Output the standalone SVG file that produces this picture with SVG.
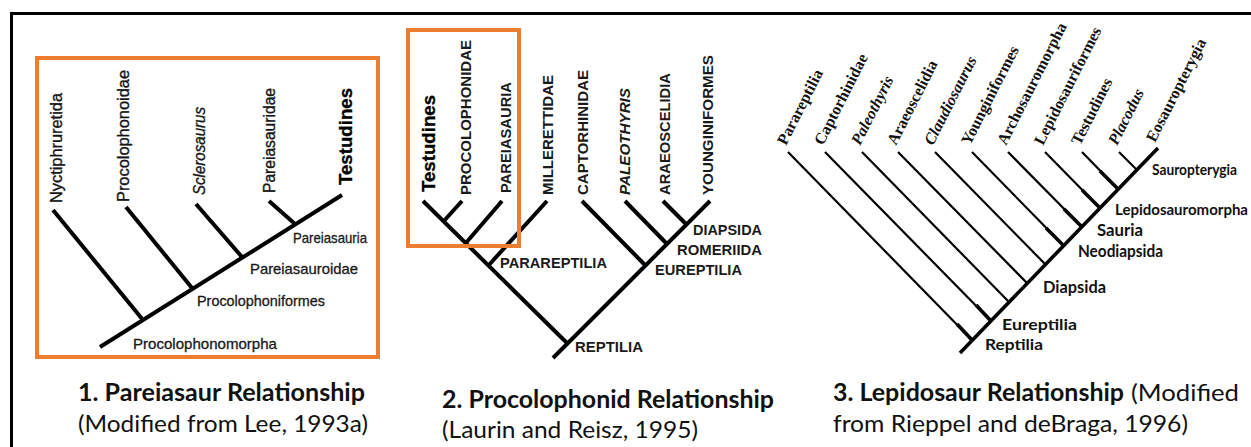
<svg xmlns="http://www.w3.org/2000/svg" width="1251" height="447" viewBox="0 0 1251 447">
<style>
.frame{fill:none;stroke:#000;stroke-width:3}
.box{fill:none;stroke:#ED7D31;stroke-width:4}
.ln{stroke:#000;stroke-width:4;stroke-linecap:butt;fill:none}
.ln3{stroke:#000;stroke-width:2.2;fill:none}
.ln3b{stroke:#000;stroke-width:3.6;fill:none}
.t1{font-family:"Liberation Sans",Arial,sans-serif;font-size:16px;fill:#151515;stroke:#151515;stroke-width:0.35}
.t1b{font-family:"Liberation Sans",Arial,sans-serif;font-size:18px;font-weight:bold;fill:#000;stroke:#000;stroke-width:0.3}
.c1{font-family:"Liberation Sans",Arial,sans-serif;font-size:14.5px;fill:#1a1a1a;stroke:#1a1a1a;stroke-width:0.3}
.t2{font-family:"Liberation Sans",Arial,sans-serif;font-size:15px;font-weight:bold;fill:#1a1a1a}
.c2{font-family:"Liberation Sans",Arial,sans-serif;font-size:15.5px;font-weight:bold;fill:#1a1a1a}
.t3{font-family:"Liberation Serif","Times New Roman",serif;font-size:16px;font-weight:bold;fill:#111}
.it{font-style:italic}
.c3{font-family:Lato,"Open Sans",sans-serif;font-weight:bold;fill:#111}
.capb{font-family:Lato,"Open Sans",sans-serif;font-size:24px;font-weight:bold;fill:#111}
.capr{font-family:Lato,"Open Sans",sans-serif;font-size:24px;fill:#111}
</style>

<polyline class="frame" points="11.5,447 11.5,13.5 1251,13.5"/>

<!-- Panel 1 -->
<rect id="box1" class="box" x="37" y="58" width="341" height="299"/>
<g id="connectors">
  <g id="conn-p1">
    <line class="ln" x1="100" y1="347" x2="342" y2="195"/>
    <line class="ln" x1="53" y1="210" x2="143" y2="320"/>
    <line class="ln" x1="126" y1="207" x2="192" y2="288"/>
    <line class="ln" x1="196" y1="204" x2="242" y2="257"/>
    <line class="ln" x1="269" y1="201" x2="295" y2="224"/>
  </g>
  <g id="conn-p2">
    <line class="ln" x1="423" y1="201" x2="567" y2="343"/>
    <line class="ln" x1="710" y1="201" x2="553" y2="358"/>
    <line class="ln" x1="462" y1="201" x2="443" y2="222"/>
    <line class="ln" x1="502" y1="201" x2="465" y2="244"/>
    <line class="ln" x1="547" y1="201" x2="488" y2="266"/>
    <line class="ln" x1="582" y1="201" x2="645" y2="265"/>
    <line class="ln" x1="625" y1="201" x2="667" y2="244"/>
    <line class="ln" x1="663" y1="201" x2="686" y2="224"/>
  </g>
  <g id="conn-p3">
    <line class="ln3b" x1="960" y1="353" x2="1158" y2="148"/>
    <line class="ln3" x1="788" y1="152" x2="972" y2="340"/>
    <line class="ln3" x1="825" y1="152" x2="991" y2="321"/>
    <line class="ln3" x1="862" y1="152" x2="1009" y2="302"/>
    <line class="ln3" x1="898" y1="152" x2="1027" y2="283"/>
    <line class="ln3" x1="935" y1="152" x2="1045" y2="264"/>
    <line class="ln3" x1="972" y1="152" x2="1064" y2="246"/>
    <line class="ln3" x1="1008" y1="152" x2="1082" y2="227"/>
    <line class="ln3" x1="1045" y1="152" x2="1100" y2="208"/>
    <line class="ln3" x1="1082" y1="152" x2="1118" y2="189"/>
    <line class="ln3" x1="1119" y1="152" x2="1137" y2="170"/>
    <line class="ln3b" x1="957" y1="324" x2="972" y2="340"/>
    <line class="ln3b" x1="976" y1="305" x2="991" y2="321"/>
    <line class="ln3b" x1="1046" y1="228" x2="1064" y2="246"/>
    <line class="ln3b" x1="1064" y1="209" x2="1082" y2="227"/>
    <line class="ln3b" x1="1082" y1="190" x2="1100" y2="208"/>
    <line class="ln3b" x1="1100" y1="171" x2="1118" y2="189"/>
  </g>
</g>

<g id="p1-nyctiphruretida"><text class="t1" transform="translate(62,203) rotate(-90)" textLength="110" lengthAdjust="spacingAndGlyphs">Nyctiphruretida</text></g>
<g id="p1-procolophonoidae"><text class="t1" transform="translate(128.5,202) rotate(-90)" textLength="132" lengthAdjust="spacingAndGlyphs">Procolophonoidae</text></g>
<g id="p1-sclerosaurus"><text class="t1 it" transform="translate(205,195) rotate(-90)" textLength="88" lengthAdjust="spacingAndGlyphs">Sclerosaurus</text></g>
<g id="p1-pareiasauridae"><text class="t1" transform="translate(275,193) rotate(-90)" textLength="105" lengthAdjust="spacingAndGlyphs">Pareiasauridae</text></g>
<g id="p1-testudines"><text class="t1b" transform="translate(352,185) rotate(-90)" textLength="97" lengthAdjust="spacingAndGlyphs">Testudines</text></g>
<g id="p1-pareiasauria"><text class="c1" x="293" y="243" textLength="74" lengthAdjust="spacingAndGlyphs">Pareiasauria</text></g>
<g id="p1-pareiasauroidae"><text class="c1" x="250" y="274" textLength="108" lengthAdjust="spacingAndGlyphs">Pareiasauroidae</text></g>
<g id="p1-procolophoniformes"><text class="c1" x="197" y="306" textLength="128" lengthAdjust="spacingAndGlyphs">Procolophoniformes</text></g>
<g id="p1-procolophonomorpha"><text class="c1" x="133" y="349" textLength="144" lengthAdjust="spacingAndGlyphs">Procolophonomorpha</text></g>

<!-- Panel 2 -->
<rect id="box2" class="box" x="408" y="30" width="111" height="216"/>
<g id="p2-testudines"><text class="t1b" transform="translate(435,192) rotate(-90)" textLength="97" lengthAdjust="spacingAndGlyphs">Testudines</text></g>
<g id="p2-procolophonidae"><text class="t2" transform="translate(471,195) rotate(-90)" textLength="155" lengthAdjust="spacingAndGlyphs">PROCOLOPHONIDAE</text></g>
<g id="p2-pareiasauria"><text class="t2" transform="translate(511,193) rotate(-90)" textLength="111" lengthAdjust="spacingAndGlyphs">PAREIASAURIA</text></g>
<g id="p2-millerettidae"><text class="t2" transform="translate(553,195) rotate(-90)" textLength="120" lengthAdjust="spacingAndGlyphs">MILLERETTIDAE</text></g>
<g id="p2-captorhinidae"><text class="t2" transform="translate(588,195) rotate(-90)" textLength="125" lengthAdjust="spacingAndGlyphs">CAPTORHINIDAE</text></g>
<g id="p2-paleothyris"><text class="t2 it" transform="translate(630,195) rotate(-90)" textLength="107" lengthAdjust="spacingAndGlyphs">PALEOTHYRIS</text></g>
<g id="p2-araeoscelidia"><text class="t2" transform="translate(670,195) rotate(-90)" textLength="122" lengthAdjust="spacingAndGlyphs">ARAEOSCELIDIA</text></g>
<g id="p2-younginiformes"><text class="t2" transform="translate(713,195) rotate(-90)" textLength="140" lengthAdjust="spacingAndGlyphs">YOUNGINIFORMES</text></g>
<g id="p2-diapsida"><text class="c2" x="693" y="235" textLength="69" lengthAdjust="spacingAndGlyphs">DIAPSIDA</text></g>
<g id="p2-romeriida"><text class="c2" x="677" y="255" textLength="85" lengthAdjust="spacingAndGlyphs">ROMERIIDA</text></g>
<g id="p2-eureptilia"><text class="c2" x="655" y="275" textLength="87" lengthAdjust="spacingAndGlyphs">EUREPTILIA</text></g>
<g id="p2-parareptilia"><text class="c2" x="500" y="268" textLength="107" lengthAdjust="spacingAndGlyphs">PARAREPTILIA</text></g>
<g id="p2-reptilia"><text class="c2" x="575" y="352" textLength="68" lengthAdjust="spacingAndGlyphs">REPTILIA</text></g>

<!-- Panel 3 -->
<g id="p3-parareptilia"><text class="t3" transform="translate(786,146) rotate(-63)">Parareptilia</text></g>
<g id="p3-captorhinidae"><text class="t3" transform="translate(823,146) rotate(-63)">Captorhinidae</text></g>
<g id="p3-paleothyris"><text class="t3 it" transform="translate(860,146) rotate(-63)">Paleothyris</text></g>
<g id="p3-araeoscelidia"><text class="t3" transform="translate(896,146) rotate(-63)">Araeoscelidia</text></g>
<g id="p3-claudiosaurus"><text class="t3 it" transform="translate(933,146) rotate(-63)">Claudiosaurus</text></g>
<g id="p3-younginiformes"><text class="t3" transform="translate(970,146) rotate(-63)">Younginiformes</text></g>
<g id="p3-archosauromorpha"><text class="t3" transform="translate(1006,146) rotate(-63)">Archosauromorpha</text></g>
<g id="p3-lepidosauriformes"><text class="t3" transform="translate(1043,146) rotate(-63)">Lepidosauriformes</text></g>
<g id="p3-testudines"><text class="t3" transform="translate(1080,146) rotate(-63)">Testudines</text></g>
<g id="p3-placodus"><text class="t3 it" transform="translate(1117,146) rotate(-63)">Placodus</text></g>
<g id="p3-eosauropterygia"><text class="t3" transform="translate(1155,143) rotate(-63)">Eosauropterygia</text></g>
<g id="p3-sauropterygia"><text class="c3" x="1152" y="175" font-size="15" textLength="85" lengthAdjust="spacingAndGlyphs">Sauropterygia</text></g>
<g id="p3-lepidosauromorpha"><text class="c3" x="1115" y="215" font-size="15" textLength="133" lengthAdjust="spacingAndGlyphs">Lepidosauromorpha</text></g>
<g id="p3-sauria"><text class="c3" x="1097" y="236" font-size="17" textLength="46" lengthAdjust="spacingAndGlyphs">Sauria</text></g>
<g id="p3-neodiapsida"><text class="c3" x="1078" y="257" font-size="17" textLength="85" lengthAdjust="spacingAndGlyphs">Neodiapsida</text></g>
<g id="p3-diapsida"><text class="c3" x="1043" y="293" font-size="17" textLength="63" lengthAdjust="spacingAndGlyphs">Diapsida</text></g>
<g id="p3-eureptilia"><text class="c3" x="1002" y="330" font-size="16" textLength="75" lengthAdjust="spacingAndGlyphs">Eureptilia</text></g>
<g id="p3-reptilia"><text class="c3" x="985" y="350" font-size="16" textLength="58" lengthAdjust="spacingAndGlyphs">Reptilia</text></g>

<!-- Captions -->
<g id="caption1">
  <text class="capb" x="78" y="401" textLength="287" lengthAdjust="spacingAndGlyphs">1. Pareiasaur Relationship</text>
  <text class="capr" x="78" y="432" textLength="290" lengthAdjust="spacingAndGlyphs">(Modified from Lee, 1993a)</text>
</g>
<g id="caption2">
  <text class="capb" x="442" y="408" textLength="332" lengthAdjust="spacingAndGlyphs">2. Procolophonid Relationship</text>
  <text class="capr" x="442" y="438" textLength="256" lengthAdjust="spacingAndGlyphs">(Laurin and Reisz, 1995)</text>
</g>
<g id="caption3">
  <text class="capb" x="833" y="401" textLength="291" lengthAdjust="spacingAndGlyphs">3. Lepidosaur Relationship</text>
  <text class="capr" x="1131" y="401" textLength="108" lengthAdjust="spacingAndGlyphs">(Modified</text>
  <text class="capr" x="833" y="432" textLength="355" lengthAdjust="spacingAndGlyphs">from Rieppel and deBraga, 1996)</text>
</g>
</svg>
